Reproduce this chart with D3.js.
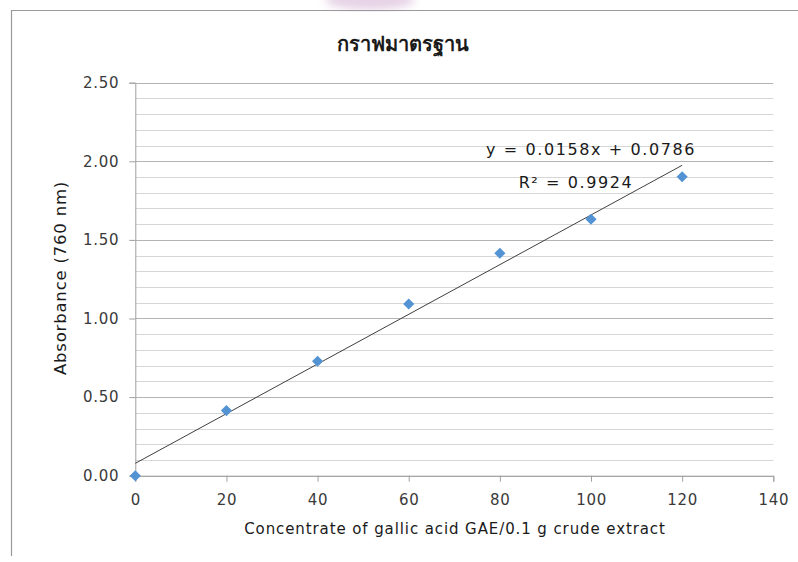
<!DOCTYPE html>
<html><head><meta charset="utf-8">
<script src="https://cdn.jsdelivr.net/npm/d3@7"></script>
<style>body{margin:0;background:#fff}svg{display:block}</style>
</head><body>
<script>
const concentrations = [0, 20, 40, 60, 80, 100, 120];
const absorbance = [0.000, 0.414, 0.728, 1.092, 1.415, 1.631, 1.902];
const xTicks = [0, 20, 40, 60, 80, 100, 120, 140];
const yTicks = [0, 0.5, 1.0, 1.5, 2.0, 2.5];
const yGrid = d3.range(0, 26).map(i => i / 10);
const slope = 0.0158, intercept = 0.0786, r2 = 0.9924;
const title = "กราฟมาตรฐาน";
const xTitle = "Concentrate of gallic acid GAE/0.1 g crude extract";
const yTitle = "Absorbance (760 nm)";

const W = 798, H = 562;
const svg = d3.select("body").append("svg").attr("width", W).attr("height", H);
const defs = svg.append("defs");
defs.append("filter").attr("id","blur").append("feGaussianBlur").attr("stdDeviation", 4);

// watermark hint
svg.append("ellipse").attr("cx", 370).attr("cy", 0).attr("rx", 45).attr("ry", 10)
  .attr("fill", "#e6d3e6").attr("filter", "url(#blur)");

// frame
svg.append("path").attr("d", `M11.5,556 V10.5 H798`).attr("fill","none").attr("stroke","#9a9a9a").attr("stroke-width",1.2);

const x = d3.scaleLinear().domain([0, 140]).range([135.3, 773.3]);
const y = d3.scaleLinear().domain([0, 2.5]).range([475.7, 82.7]);
const font = "Tahoma, 'DejaVu Sans', Verdana, sans-serif";

// gridlines
svg.append("g").selectAll("line").data(yGrid).join("line")
  .attr("x1", x(0)).attr("x2", x(140))
  .attr("y1", d => Math.round(y(d)) + 0.5).attr("y2", d => Math.round(y(d)) + 0.5)
  .attr("stroke", d => (Math.round(d * 10) % 5 === 0) ? "#b4b4b4" : "#d6d6d6").attr("stroke-width", 1);

// y axis
const yAxis = svg.append("g").attr("transform", `translate(${x(0)},0)`)
  .call(d3.axisLeft(y).tickValues(yTicks).tickFormat(d3.format(".2f")).tickSize(6).tickPadding(10));
yAxis.select(".domain").attr("stroke", "#a0a0a0");
yAxis.selectAll(".tick line").attr("stroke", "#a0a0a0");
yAxis.selectAll("text").attr("font-family", font).attr("font-size", 15).attr("letter-spacing", 0.7).attr("fill", "#3a3a3a");

// x axis
const xAxis = svg.append("g").attr("transform", `translate(0,${y(0)})`)
  .call(d3.axisBottom(x).tickValues(xTicks).tickFormat(d3.format("d")).tickSize(6).tickPadding(13));
xAxis.select(".domain").attr("stroke", "#a0a0a0");
xAxis.selectAll(".tick line").attr("stroke", "#a0a0a0");
xAxis.selectAll("text").attr("font-family", font).attr("font-size", 15).attr("letter-spacing", 0.7).attr("fill", "#3a3a3a");

// trendline
svg.append("line")
  .attr("x1", x(0)).attr("y1", y(intercept))
  .attr("x2", x(120)).attr("y2", y(intercept + slope * 120))
  .attr("stroke", "#404040").attr("stroke-width", 1);

// markers
svg.append("g").selectAll("path").data(concentrations).join("path")
  .attr("d", d3.symbol(d3.symbolSquare, 62))
  .attr("transform", (d, i) => `translate(${x(d)},${y(absorbance[i])}) rotate(45)`)
  .attr("fill", "#5393d4");

// titles
svg.append("text").attr("x", 403).attr("y", 51).attr("text-anchor", "middle")
  .attr("font-family", font).attr("font-size", 20).attr("font-weight", "bold").attr("fill", "#1a1a1a").text(title);
svg.append("text").attr("x", 455).attr("y", 534).attr("text-anchor", "middle")
  .attr("font-family", font).attr("font-size", 15).attr("letter-spacing", 0.9).attr("fill", "#1a1a1a").text(xTitle);
svg.append("text").attr("transform", "translate(66,278) rotate(-90)").attr("text-anchor", "middle")
  .attr("font-family", font).attr("font-size", 16.5).attr("letter-spacing", 0.8).attr("fill", "#1a1a1a").text(yTitle);

// equation
svg.append("text").attr("x", 591).attr("y", 155).attr("text-anchor", "middle")
  .attr("font-family", font).attr("font-size", 16).attr("letter-spacing", 1.6).attr("fill", "#1a1a1a")
  .text(`y = ${slope}x + ${intercept}`);
svg.append("text").attr("x", 576).attr("y", 188).attr("text-anchor", "middle")
  .attr("font-family", font).attr("font-size", 16).attr("letter-spacing", 1.6).attr("fill", "#1a1a1a")
  .text(`R² = ${r2}`);
</script>
</body></html>
